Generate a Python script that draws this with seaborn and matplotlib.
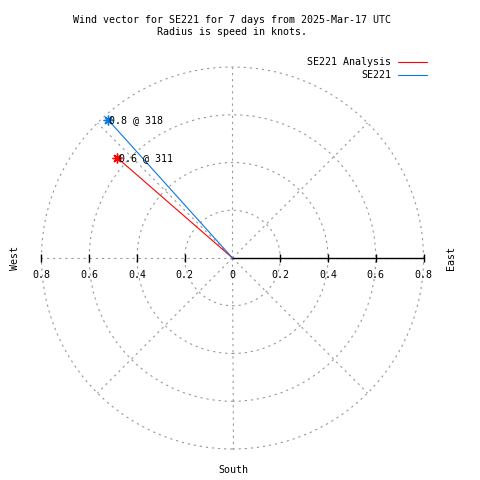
import numpy as np
import pandas as pd
import seaborn as sns
import matplotlib
matplotlib.use('Agg')
import matplotlib.pyplot as plt
from matplotlib.lines import Line2D

# data
series = ["SE221 Analysis", "SE221"]
speed = [0.64, 0.78]          # knots
direction = [311, 318]        # degrees, compass bearing
colors = ["#ff0000", "#0a78e6"]

rings = [0.2, 0.4, 0.6, 0.8]
spokes = [0, 45, 90, 135, 180, 225, 270, 315]
tick_pos = [-0.8, -0.6, -0.4, -0.2, 0, 0.2, 0.4, 0.6, 0.8]
tick_labels = ["0.8", "0.6", "0.4", "0.2", "0", "0.2", "0.4", "0.6", "0.8"]

title = "Wind vector for SE221 for 7 days from 2025-Mar-17 UTC\nRadius is speed in knots."

sns.set_theme(style="white")
plt.rcParams['font.family'] = ['DejaVu Sans Mono', 'Liberation Mono']
plt.rcParams['text.color'] = 'black'
FS = 7.2
GRID = '#999999'

fig = plt.figure(figsize=(4.8, 4.8), dpi=100)
ax = fig.add_axes([41.5 / 480, 31 / 480, 382 / 480, 382 / 480])

# ——— polar grid ———
for r in rings:
    ax.add_patch(plt.Circle((0, 0), r, fill=False, color=GRID, lw=0.8,
                            ls=(0, (2, 3.5)), clip_on=False))
for a in spokes:
    rad = np.deg2rad(a)
    ax.plot([0, 0.8 * np.sin(rad)], [0, 0.8 * np.cos(rad)], color=GRID,
            lw=0.8, ls=(0, (2, 3.5)), clip_on=False)

# solid radial axis to the east with ticks
ax.plot([0, 0.8], [0, 0], color='black', lw=1.0, clip_on=False)
ax.plot([p for p in tick_pos if p != 0], [0] * 8, ls='none', marker='|',
        ms=6, mew=1, color='black', clip_on=False)
for p, lab in zip(tick_pos, tick_labels):
    ax.annotate(lab, (p, 0), xytext=(0, -12), textcoords='offset points',
                ha='center', va='center', fontsize=FS, annotation_clip=False)

# ——— wind vectors ———
rows, tips = [], []
for name, s, d in zip(series, speed, direction):
    rad = np.deg2rad(d)
    x, y = s * np.sin(rad), s * np.cos(rad)
    rows += [{'series': name, 'x': 0.0, 'y': 0.0}, {'series': name, 'x': x, 'y': y}]
    tips.append({'series': name, 'x': x, 'y': y, 'label': f"{s:.1f} @ {d}"})
df = pd.DataFrame(rows)
df_tips = pd.DataFrame(tips)

sns.lineplot(data=df, x='x', y='y', hue='series', palette=dict(zip(series, colors)),
             sort=False, estimator=None, legend=False, lw=0.8, ax=ax)
for (_, row), c in zip(df_tips.iterrows(), colors):
    ax.plot(row['x'], row['y'], marker=(8, 2, 0), ms=7, mew=1, color=c, clip_on=False)
    ax.annotate(row['label'], (row['x'], row['y']), xytext=(1, 0),
                textcoords='offset points', ha='left', va='center', fontsize=FS)

ax.set_xlim(-0.8, 0.8)
ax.set_ylim(-0.8, 0.8)
ax.set_aspect('equal')
ax.set_axis_off()

# ——— titles and compass labels ———
fig.text(232 / 480, 1 - 26 / 480, title, ha='center', va='center', fontsize=FS,
         linespacing=1.3)
fig.text(15 / 480, 1 - 258 / 480, "West", rotation=90, ha='center', va='center', fontsize=FS)
fig.text(451 / 480, 1 - 258 / 480, "East", rotation=90, ha='center', va='center', fontsize=FS)
fig.text(233 / 480, 1 - 470 / 480, "South", ha='center', va='center', fontsize=FS)

# ——— key (gnuplot style) ———
for i, (name, c) in enumerate(zip(series, colors)):
    yk = 1 - (62 + 13 * i) / 480
    fig.text(391 / 480, yk, name, ha='right', va='center', fontsize=FS)
    fig.add_artist(Line2D([398 / 480, 427 / 480], [yk, yk], color=c, lw=0.8,
                          transform=fig.transFigure))

fig.savefig("out.png", dpi=100)
